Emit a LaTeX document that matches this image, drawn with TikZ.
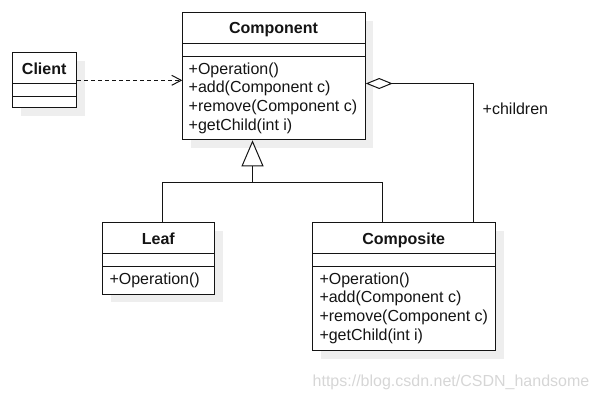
\documentclass[tikz,border=0pt]{standalone}
\usepackage{fontspec}
\setmainfont{Liberation Sans}
\usetikzlibrary{arrows.meta,shadows}
\definecolor{shadowgray}{RGB}{238,238,238}
\definecolor{wmgray}{RGB}{214,214,214}
\definecolor{inkblack}{RGB}{20,20,20}
\begin{document}
\begin{tikzpicture}[x=1bp,y=-1bp,
  classbox/.style={draw=inkblack, line width=1bp, fill=white, rectangle, inner sep=0pt, anchor=north west,
    drop shadow={shadow xshift=8bp, shadow yshift=-8bp, fill=shadowgray, opacity=1}},
  classtitle/.style={font=\fontsize{16bp}{19bp}\selectfont\bfseries, text=inkblack, anchor=base, inner sep=0pt},
  member/.style={font=\fontsize{16bp}{19bp}\selectfont, text=inkblack, anchor=base west, inner sep=0pt},
  divider/.style={draw=inkblack, line width=1bp},
  conn/.style={draw=inkblack, line width=1bp}]
\useasboundingbox (0,0) rectangle (597,400);

% Component
\node[classbox, minimum width=182.4bp, minimum height=127bp] (comp) at (182.3,12.3) {};
\draw[divider] (182.3,43.3) -- (364.7,43.3);
\draw[divider] (182.3,56) -- (364.7,56);
\node[classtitle] (compT) at (273.5,33.3) {Component};
\node[member] (compM1) at (188.5,74.3) {+Operation()};
\node[member] (compM2) at (188.5,92.9) {+add(Component c)};
\node[member] (compM3) at (188.5,111.5) {+remove(Component c)};
\node[member] (compM4) at (188.5,130.1) {+getChild(int i)};

% Client
\node[classbox, minimum width=63.7bp, minimum height=55bp] (client) at (12.3,52.3) {};
\draw[divider] (12.3,83.7) -- (76,83.7);
\draw[divider] (12.3,96.3) -- (76,96.3);
\node[classtitle] (clientT) at (44.2,74) {Client};

% Leaf
\node[classbox, minimum width=112bp, minimum height=71.4bp] (leaf) at (102.3,222.3) {};
\draw[divider] (102.3,253.7) -- (214.3,253.7);
\draw[divider] (102.3,266.3) -- (214.3,266.3);
\node[classtitle] (leafT) at (158.3,244) {Leaf};
\node[member] (leafM1) at (109.3,284.3) {+Operation()};

% Composite
\node[classbox, minimum width=182.7bp, minimum height=127.7bp] (compo) at (312.3,222.3) {};
\draw[divider] (312.3,253.7) -- (495,253.7);
\draw[divider] (312.3,266.3) -- (495,266.3);
\node[classtitle] (compoT) at (403.7,244) {Composite};
\node[member] (compoM1) at (319.3,284.3) {+Operation()};
\node[member] (compoM2) at (319.3,302.9) {+add(Component c)};
\node[member] (compoM3) at (319.3,321.5) {+remove(Component c)};
\node[member] (compoM4) at (319.3,340.1) {+getChild(int i)};

% Dependency Client -> Component
\draw[conn, dashed, dash pattern=on 4bp off 3bp, -{Straight Barb[length=9.5bp, width=10bp, line width=1bp]}]
  (client.east) -- (comp.west |- client.east);

% Generalization
\coordinate (junc) at (252.5,182.5);
\draw[conn] ([xshift=4bp]leaf.north) |- (junc);
\draw[conn] ([xshift=-21.3bp]compo.north) |- (junc);
\draw[conn, -{Triangle[open, length=26bp, width=22bp, fill=white]}] (junc) -- (junc |- comp.south);

% Aggregation
\draw[conn, {Diamond[open, length=27bp, width=11bp, fill=white]}-]
  ([yshift=-7.2bp]comp.east) -| ([xshift=-22.7bp]compo.north east);
\node[member] (children) at (482.5,114.3) {+children};

% Watermark
\node[member, text=wmgray] (wm) at (312.5,386) {https://blog.csdn.net/CSDN\_handsome};
\end{tikzpicture}
\end{document}
